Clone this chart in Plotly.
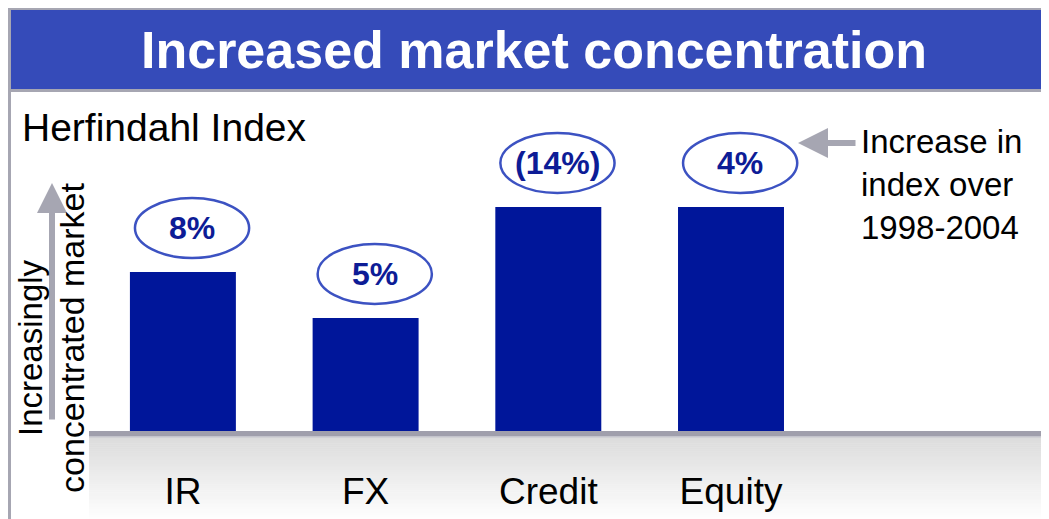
import plotly.graph_objects as go

categories = ["IR", "FX", "Credit", "Equity"]
index_values = [710, 505, 1000, 1000]
change_labels = ["8%", "5%", "(14%)", "4%"]

# page body has an 8px margin: work in screen pixels and shift by OFF
OFF = 8
W, H = 1049, 519
SL, ST, SB = 89, 100, 431          # screen left, top, bottom of plot area
L, T = SL - OFF, ST - OFF
B = H - (SB - OFF)
R = 0
PW, PH = W - L - R, H - T - B
YMAX = 1478
SPACING = 182.7
X0 = -0.514
X1 = X0 + PW / SPACING

def px(x):
    return (x - OFF - L) / PW

def py(y):
    return (H - B - (y - OFF)) / PH

FONT = "Liberation Sans, Arial, sans-serif"
GRAY = "#a6a6b2"
BAR = "#00169a"
BANNER = "#354bb9"

fig = go.Figure()
fig.add_trace(go.Bar(x=categories, y=index_values, marker=dict(color=BAR, line=dict(width=0)),
                     width=0.58, hoverinfo="skip"))

shapes = []
def rect(x0, y0, x1, y1, color, layer="above"):
    shapes.append(dict(type="rect", xref="paper", yref="paper", x0=px(x0), x1=px(x1),
                       y0=py(y1), y1=py(y0), fillcolor=color, line=dict(width=0), layer=layer))

RIGHT = 1060
# frame and banner
rect(8, 7, 11, 530, GRAY)
rect(8, 7, RIGHT, 10, GRAY)
rect(11, 10, RIGHT, 89, BANNER)
rect(11, 89, RIGHT, 92, GRAY)

# gradient floor below axis
n = 40
top, bot = 437, 519
for i in range(n):
    y0 = top + (bot - top) * i / n
    y1 = top + (bot - top) * (i + 1) / n + 0.5
    t = i / (n - 1)
    v = int(round(220 + (254 - 220) * t))
    rect(89, y0, RIGHT, y1, f"rgb({v},{v},{v})", layer="below")
# baseline
rect(89, 431, RIGHT, 436, "#a09fac")
rect(89, 436, RIGHT, 437.5, "#c4c4cc")

# ellipses around change labels (anchored to bar tops)
ew, eh_px, off_px, dx = 0.625, 60, 44, 0.05
eh = eh_px * YMAX / PH
off = off_px * YMAX / PH
annotations = []
for i, (v, lab) in enumerate(zip(index_values, change_labels)):
    cy = v + off
    cx = i + dx
    shapes.append(dict(type="circle", xref="x", yref="y", x0=cx - ew / 2, x1=cx + ew / 2,
                       y0=cy - eh / 2, y1=cy + eh / 2, line=dict(color="#3c52c2", width=2.5),
                       fillcolor="rgba(0,0,0,0)"))
    annotations.append(dict(x=cx, y=cy, xref="x", yref="y", text=f"<b>{lab}</b>", showarrow=False,
                            font=dict(family=FONT, size=32, color="#0d1c96"),
                            xanchor="center", yanchor="middle"))

# title
annotations.append(dict(x=px(534), y=py(50), xref="paper", yref="paper",
                        text="<b>Increased market concentration</b>", showarrow=False,
                        font=dict(family=FONT, size=52, color="white"),
                        xanchor="center", yanchor="middle"))
annotations.append(dict(x=px(20), y=py(127), xref="paper", yref="paper", text="Herfindahl Index",
                        showarrow=False, font=dict(family=FONT, size=39, color="black"),
                        xanchor="left", yanchor="middle"))
# right note
annotations.append(dict(x=px(859), y=py(184), xref="paper", yref="paper",
                        text="Increase in<br>index over<br>1998-2004", showarrow=False, align="left",
                        font=dict(family=FONT, size=33, color="black"),
                        xanchor="left", yanchor="middle"))
# horizontal arrow
annotations.append(dict(x=px(798), y=py(143), ax=59, ay=0, xref="paper", yref="paper",
                        axref="pixel", ayref="pixel", text="", showarrow=True, arrowhead=2,
                        arrowsize=1.0, arrowwidth=6, arrowcolor=GRAY))
# vertical arrow
annotations.append(dict(x=px(52), y=py(183), ax=0, ay=238, xref="paper", yref="paper",
                        axref="pixel", ayref="pixel", text="", showarrow=True, arrowhead=2,
                        arrowsize=1.0, arrowwidth=6, arrowcolor=GRAY))
# rotated axis text
annotations.append(dict(x=px(30), y=py(348), xref="paper", yref="paper", text="Increasingly",
                        showarrow=False, textangle=-90, font=dict(family=FONT, size=33, color="black"),
                        xanchor="center", yanchor="middle"))
annotations.append(dict(x=px(72), y=py(338), xref="paper", yref="paper", text="concentrated market",
                        showarrow=False, textangle=-90, font=dict(family=FONT, size=34, color="black"),
                        xanchor="center", yanchor="middle"))

fig.update_layout(
    width=W, height=H, margin=dict(l=L, r=R, t=T, b=B, pad=0),
    paper_bgcolor="white", plot_bgcolor="rgba(0,0,0,0)",
    showlegend=False, shapes=shapes, annotations=annotations,
    xaxis=dict(range=[X0, X1], showgrid=False, zeroline=False, showline=False,
               ticks="", tickfont=dict(family=FONT, size=37, color="black"), ticklabelstandoff=35,
               fixedrange=True),
    yaxis=dict(range=[0, YMAX], visible=False, fixedrange=True),
)

fig.write_html("out.html")
